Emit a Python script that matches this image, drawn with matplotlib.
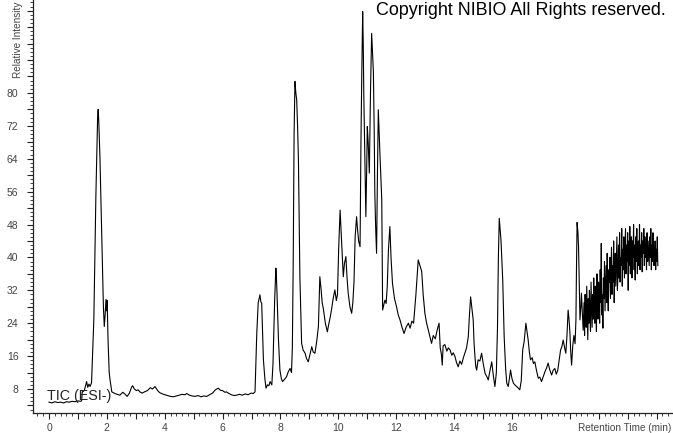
import numpy as np
import matplotlib
matplotlib.use("Agg")
import matplotlib.pyplot as plt
from matplotlib.ticker import FixedLocator, MultipleLocator

# Retention time (min) and relative intensity
times = [0.00, 0.10, 0.20, 0.30, 0.40, 0.50, 0.60, 0.70, 0.80, 0.90, 1.00, 1.10, 1.13,
         1.15, 1.22, 1.30, 1.34, 1.38, 1.42, 1.47, 1.55, 1.62, 1.68, 1.70, 1.72, 1.76, 1.80,
         1.84, 1.88, 1.91, 1.94, 1.97, 1.99, 2.01, 2.04, 2.08, 2.11, 2.17, 2.25, 2.35, 2.45,
         2.55, 2.62, 2.70, 2.78, 2.85, 2.89, 2.95, 3.02, 3.08, 3.14, 3.22, 3.30, 3.40, 3.50,
         3.58, 3.66, 3.72, 3.78, 3.83, 3.92, 4.00, 4.10, 4.20, 4.30, 4.40, 4.50, 4.60, 4.70,
         4.76, 4.85, 4.95, 5.05, 5.15, 5.25, 5.35, 5.45, 5.55, 5.65, 5.75, 5.85, 5.92, 6.00,
         6.08, 6.13, 6.22, 6.30, 6.40, 6.48, 6.58, 6.68, 6.78, 6.88, 6.98, 7.06, 7.12,
         7.18, 7.23, 7.29, 7.32, 7.35, 7.41, 7.46, 7.50, 7.55, 7.60, 7.64, 7.70, 7.74, 7.80,
         7.84, 7.86, 7.88, 7.93, 7.98, 8.03, 8.07, 8.12, 8.17, 8.21, 8.27, 8.33, 8.38, 8.41,
         8.44, 8.47, 8.50, 8.53, 8.56, 8.59, 8.62, 8.67, 8.73, 8.78, 8.85, 8.90, 8.96, 9.02,
         9.08, 9.13, 9.19, 9.25, 9.31, 9.36, 9.40, 9.44, 9.48, 9.55, 9.62, 9.66, 9.72, 9.77,
         9.82, 9.88, 9.93, 9.97, 10.01, 10.06, 10.09, 10.11, 10.14, 10.17, 10.21, 10.26,
         10.30, 10.34, 10.40, 10.46, 10.50, 10.54, 10.58, 10.63, 10.66, 10.70, 10.75, 10.78,
         10.81, 10.84, 10.86, 10.88, 10.92, 10.95, 10.98, 11.00, 11.03, 11.07, 11.11, 11.15,
         11.18, 11.21, 11.24, 11.26, 11.29, 11.32, 11.35, 11.38, 11.41, 11.44, 11.50, 11.53,
         11.57, 11.61, 11.65, 11.69, 11.73, 11.78, 11.82, 11.87, 11.94, 12.01, 12.07, 12.13,
         12.20, 12.27, 12.34, 12.42, 12.48, 12.54, 12.60, 12.68, 12.76, 12.82, 12.88, 12.93,
         12.99, 13.05, 13.11, 13.17, 13.22, 13.28, 13.35, 13.42, 13.48, 13.52, 13.56, 13.59,
         13.62, 13.68, 13.75, 13.80, 13.86, 13.92, 13.97, 14.03, 14.08, 14.14, 14.20, 14.26,
         14.32, 14.37, 14.43, 14.49, 14.53, 14.57, 14.61, 14.66, 14.69, 14.72, 14.75, 14.78,
         14.83, 14.89, 14.95, 15.01, 15.07, 15.13, 15.18, 15.24, 15.30, 15.36, 15.41, 15.46,
         15.50, 15.53, 15.56, 15.59, 15.62, 15.68, 15.73, 15.78, 15.82, 15.87, 15.91, 15.95,
         16.00, 16.05, 16.10, 16.16, 16.22, 16.27, 16.32, 16.37, 16.42, 16.48, 16.52, 16.56,
         16.60, 16.64, 16.70, 16.74, 16.79, 16.85, 16.91, 16.96, 17.02, 17.08, 17.14, 17.20,
         17.25, 17.30, 17.37, 17.42, 17.48, 17.53, 17.58, 17.63, 17.68, 17.72, 17.77, 17.82,
         17.86, 17.90, 17.94, 17.97, 18.00, 18.03, 18.06, 18.10, 18.14, 18.18, 18.21, 18.23,
         18.25, 18.28, 18.30, 18.33, 18.35, 18.38, 18.40, 18.43, 18.46]

intensity = [4.8, 4.6, 4.9, 4.7, 4.8, 4.6, 4.9, 4.8, 5.0, 4.9, 5.1, 5.0, 5.2,
             7.3, 7.6, 9.8, 8.4, 9.2, 8.6, 9.5, 25.0, 55.0, 74.0, 76.0, 73.0, 64.5, 52.0,
             40.2, 28.0, 23.2, 26.0, 29.8, 27.0, 29.5, 20.0, 12.0, 10.2, 7.3, 7.0, 6.7, 6.5,
             7.2, 6.8, 6.2, 7.0, 8.4, 8.8, 8.0, 7.6, 7.8, 7.3, 7.0, 7.3, 7.6, 8.3,
             8.0, 8.6, 8.0, 7.4, 7.1, 6.8, 6.6, 6.4, 6.2, 6.1, 6.3, 6.5, 6.7, 6.6,
             6.9, 6.5, 6.3, 6.2, 6.4, 6.1, 6.3, 6.2, 6.6, 7.0, 7.8, 8.2, 7.7, 7.6,
             7.2, 7.3, 6.9, 6.6, 6.4, 6.5, 6.7, 6.5, 6.8, 6.6, 7.0, 6.9, 7.3,
             21.5, 29.0, 30.9, 29.2, 28.9, 15.1, 10.5, 8.2, 9.0, 8.8, 9.8, 9.0, 14.0, 30.0,
             37.4, 35.0, 31.1, 20.0, 12.6, 10.5, 9.8, 10.2, 10.6, 11.0, 12.2, 13.0, 12.0, 18.0,
             39.4, 70.0, 82.8, 80.0, 78.3, 72.0, 63.7, 35.3, 19.1, 17.5, 16.7, 15.4, 14.6, 16.5,
             18.3, 17.0, 16.7, 19.5, 23.2, 35.3, 32.5, 29.0, 27.6, 24.0, 21.9, 23.5, 25.5, 27.6,
             30.0, 32.1, 29.5, 31.0, 42.0, 51.5, 47.0, 44.0, 39.0, 35.3, 38.5, 40.2,
             35.0, 31.3, 28.0, 26.4, 29.0, 34.0, 45.0, 49.9, 47.0, 44.0, 42.6, 67.8,
             85.0, 99.8, 92.0, 79.1, 62.0, 49.9, 62.0, 71.8, 68.0, 60.5, 80.0, 94.5,
             90.0, 85.2, 70.0, 55.6, 47.0, 41.0, 60.0, 75.9, 70.0, 64.5, 54.0, 27.2,
             28.5, 29.6, 28.8, 33.0, 41.8, 47.5, 40.0, 33.7, 30.0, 28.0, 26.0, 24.8,
             23.0, 21.5, 23.0, 24.0, 22.8, 24.5, 24.0, 31.0, 39.4, 38.0, 36.6, 31.0,
             26.4, 24.0, 22.3, 20.5, 19.1, 21.0, 20.2, 22.5, 24.0, 18.0, 16.5, 13.8,
             18.5, 18.8, 17.2, 18.0, 17.5, 16.2, 16.8, 15.9, 14.5, 13.4, 14.8, 14.0,
             15.6, 16.7, 18.0, 20.7, 26.0, 30.4, 28.0, 24.8, 19.1, 15.9, 13.4, 12.6,
             15.1, 14.8, 16.7, 14.0, 11.8, 11.0, 10.2, 12.5, 14.6, 11.0, 8.6, 12.0,
             23.2, 40.0, 49.5, 47.0, 44.2, 34.5, 20.7, 13.0, 9.4, 8.6, 10.5, 12.6,
             10.5, 9.4, 9.0, 8.6, 8.2, 7.8, 10.0, 17.5, 19.5, 24.0, 22.0, 19.9,
             17.0, 15.1, 15.6, 14.2, 14.6, 12.4, 10.6, 10.9, 9.8, 11.0, 12.2, 13.2,
             14.3, 12.8, 11.4, 12.5, 13.0, 11.6, 12.5, 15.0, 17.5, 18.2, 19.9, 18.0,
             16.7, 21.0, 27.2, 25.0, 22.0, 17.0, 13.8, 18.5, 21.0, 19.0, 24.8, 38.0,
             48.5, 46.0, 42.6, 32.0, 24.8, 28.0, 31.3, 27.0, 22.3]

# Noisy late section (18.49 - 21.04 min), sampled evenly
band_start, band_end = 18.49, 21.04
band_values = [29, 21, 31, 25, 23, 33, 27, 20, 30, 24, 32, 26,
               22, 34, 28, 23, 31, 25, 35, 27, 24, 33, 29, 22,
               36, 28, 25, 34, 30, 24, 37, 29, 43.4, 26, 31, 22.8,
               35, 30, 39, 27, 33, 38, 29, 41, 32, 27, 37, 34,
               40, 30, 36, 42.5, 31, 38, 34, 44, 29, 37, 41, 33,
               39, 45, 32, 36, 43, 35, 46, 34, 40, 38, 47, 33,
               42, 37, 45, 35, 41, 47, 36, 43, 39, 46, 32, 44,
               38, 47.5, 36, 42, 45, 35, 44, 40, 48, 37, 43, 34.5,
               45, 39, 47, 36, 42, 44, 38, 48, 37, 43, 40, 46,
               36.5, 44, 41, 47, 38, 45, 40, 43, 37, 46, 39, 44,
               41, 38, 45, 40, 47, 37, 43, 39, 46, 41, 38, 40,
               44, 37, 42, 39, 45, 38]

x_major_labels = ["0", "2", "4", "6", "8", "10", "12", "14", "16"]
y_major_labels = ["8", "16", "24", "32", "40", "48", "56", "64", "72", "80"]

band_times = np.linspace(band_start, band_end, len(band_values))
t_all = np.concatenate([np.array(times), band_times])
i_all = np.concatenate([np.array(intensity), np.array(band_values, dtype=float)])

fig = plt.figure(figsize=(6.73, 4.33), dpi=100)
ax = fig.add_axes([33 / 673, 20 / 433, 639 / 673, 413 / 433])
ax.plot(t_all, i_all, color="black", lw=0.8)

ax.set_xlim(-0.553, 21.53)
ax.set_ylim(2.16, 102.6)

for s in ["top", "right"]:
    ax.spines[s].set_visible(False)
for s in ["left", "bottom"]:
    ax.spines[s].set_color("#222222")
    ax.spines[s].set_linewidth(0.9)

xt = list(range(0, 22))
ax.xaxis.set_major_locator(FixedLocator(xt))
ax.set_xticklabels([str(v) if str(v) in x_major_labels else "" for v in xt])
ax.xaxis.set_minor_locator(MultipleLocator(0.2))

yt = list(range(4, 103, 4))
ax.yaxis.set_major_locator(FixedLocator(yt))
ax.set_yticklabels([str(v) if str(v) in y_major_labels else "" for v in yt])
ax.yaxis.set_minor_locator(MultipleLocator(1))

ax.tick_params(axis="both", which="major", direction="out", length=4.5, width=0.8,
               color="#222222", labelsize=7.5, labelcolor="#444444")
ax.tick_params(axis="both", which="minor", direction="out", length=2.2, width=0.6,
               color="#222222")
ax.tick_params(axis="x", pad=3)
ax.tick_params(axis="y", pad=6)
for lab in ax.get_xticklabels() + ax.get_yticklabels():
    lab.set_family("Liberation Sans")

fig.text(578 / 673, 1 - 431 / 433, "Retention Time (min)", fontsize=7.2, color="#444444",
         family="Liberation Sans", ha="left", va="baseline")
fig.text(18.5 / 673, 1 - 78 / 433, "Relative Intensity", fontsize=7.2, color="#444444",
         family="Liberation Sans", rotation=90, ha="center", va="bottom")
fig.text(376 / 673, 1 - 15 / 433, "Copyright NIBIO All Rights reserved.", fontsize=12.9,
         color="black", family="Liberation Sans", ha="left", va="baseline")
fig.text(47 / 673, 1 - 400 / 433, "TIC (ESI-)", fontsize=10.3,
         color="#222222", family="Liberation Sans", ha="left", va="baseline")

fig.savefig("out.png", dpi=100)
